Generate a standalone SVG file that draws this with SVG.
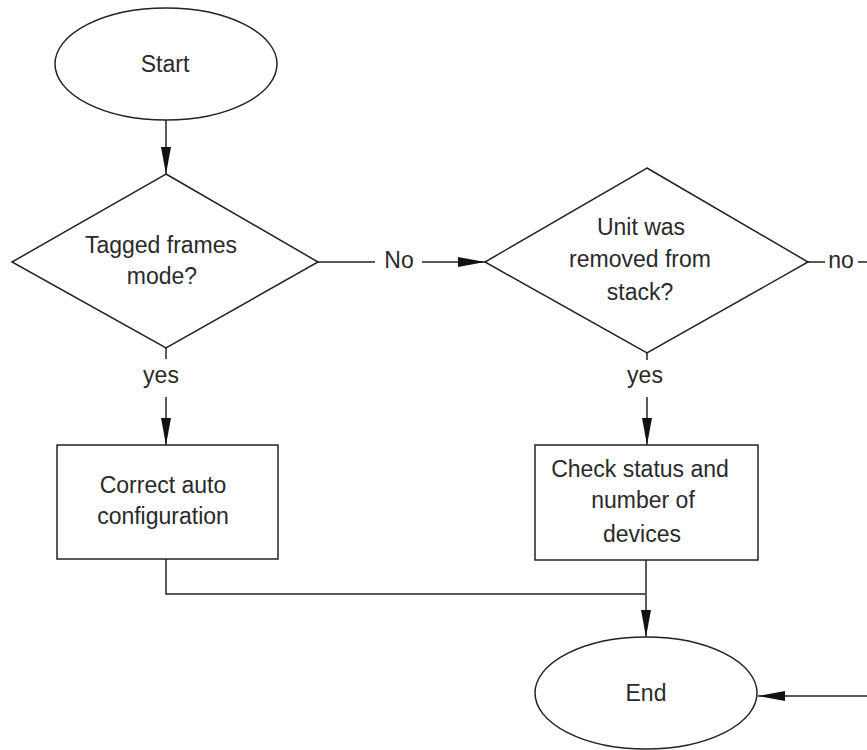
<svg xmlns="http://www.w3.org/2000/svg" width="867" height="750" viewBox="0 0 867 750">
<style>
.s{fill:#fff;stroke:#222;stroke-width:1.5}
.c{fill:none;stroke:#222;stroke-width:1.5}
text{font-family:"Liberation Sans",Arial,sans-serif;font-size:23px;fill:#2a2a2a;text-anchor:middle}
</style>
<defs>
<marker id="ah" markerUnits="userSpaceOnUse" markerWidth="28" markerHeight="12" refX="27" refY="6" orient="auto">
<path d="M0,1 L27,6 L0,11 z" fill="#111"/>
</marker>
</defs>
<rect width="867" height="750" fill="#fff"/>
<g id="connectors">
<line class="c" x1="166" y1="120" x2="166" y2="174" marker-end="url(#ah)"/>
<line class="c" x1="318" y1="262" x2="375" y2="262"/>
<line class="c" x1="422" y1="262" x2="485" y2="262" marker-end="url(#ah)"/>
<line class="c" x1="166" y1="348" x2="166" y2="359"/>
<line class="c" x1="166" y1="397" x2="166" y2="445" marker-end="url(#ah)"/>
<line class="c" x1="647" y1="353" x2="647" y2="360"/>
<line class="c" x1="647" y1="397" x2="647" y2="445" marker-end="url(#ah)"/>
<polyline class="c" points="166,559 166,594 645,594"/>
<line class="c" x1="646" y1="560" x2="646" y2="637" marker-end="url(#ah)"/>
<line class="c" x1="808" y1="262" x2="825" y2="262"/>
<line class="c" x1="858" y1="262" x2="868" y2="262"/>
<line class="c" x1="868" y1="696" x2="758" y2="696" marker-end="url(#ah)"/>
<text x="399" y="268">No</text>
<text x="841" y="268">no</text>
<text x="161" y="383">yes</text>
<text x="645" y="383">yes</text>
</g>
<g id="start">
<ellipse class="s" cx="166" cy="64" rx="111" ry="56"/>
<text x="165" y="72">Start</text>
</g>
<g id="tagged">
<polygon class="s" points="166,174 318,262 166,348 12,262"/>
<text x="161" y="253">Tagged frames</text>
<text x="162" y="284">mode?</text>
</g>
<g id="unit">
<polygon class="s" points="647,168 808,262 647,353 485,262"/>
<text x="641" y="235">Unit was</text>
<text x="640" y="267">removed from</text>
<text x="640" y="300">stack?</text>
</g>
<g id="correct">
<rect class="s" x="57" y="445" width="221" height="114"/>
<text x="163" y="493">Correct auto</text>
<text x="163" y="524">configuration</text>
</g>
<g id="check">
<rect class="s" x="535" y="445" width="223" height="115"/>
<text x="640" y="477">Check status and</text>
<text x="643" y="508">number of</text>
<text x="642" y="542">devices</text>
</g>
<g id="end">
<ellipse class="s" cx="646" cy="693" rx="111" ry="56"/>
<text x="646" y="701">End</text>
</g>
</svg>
